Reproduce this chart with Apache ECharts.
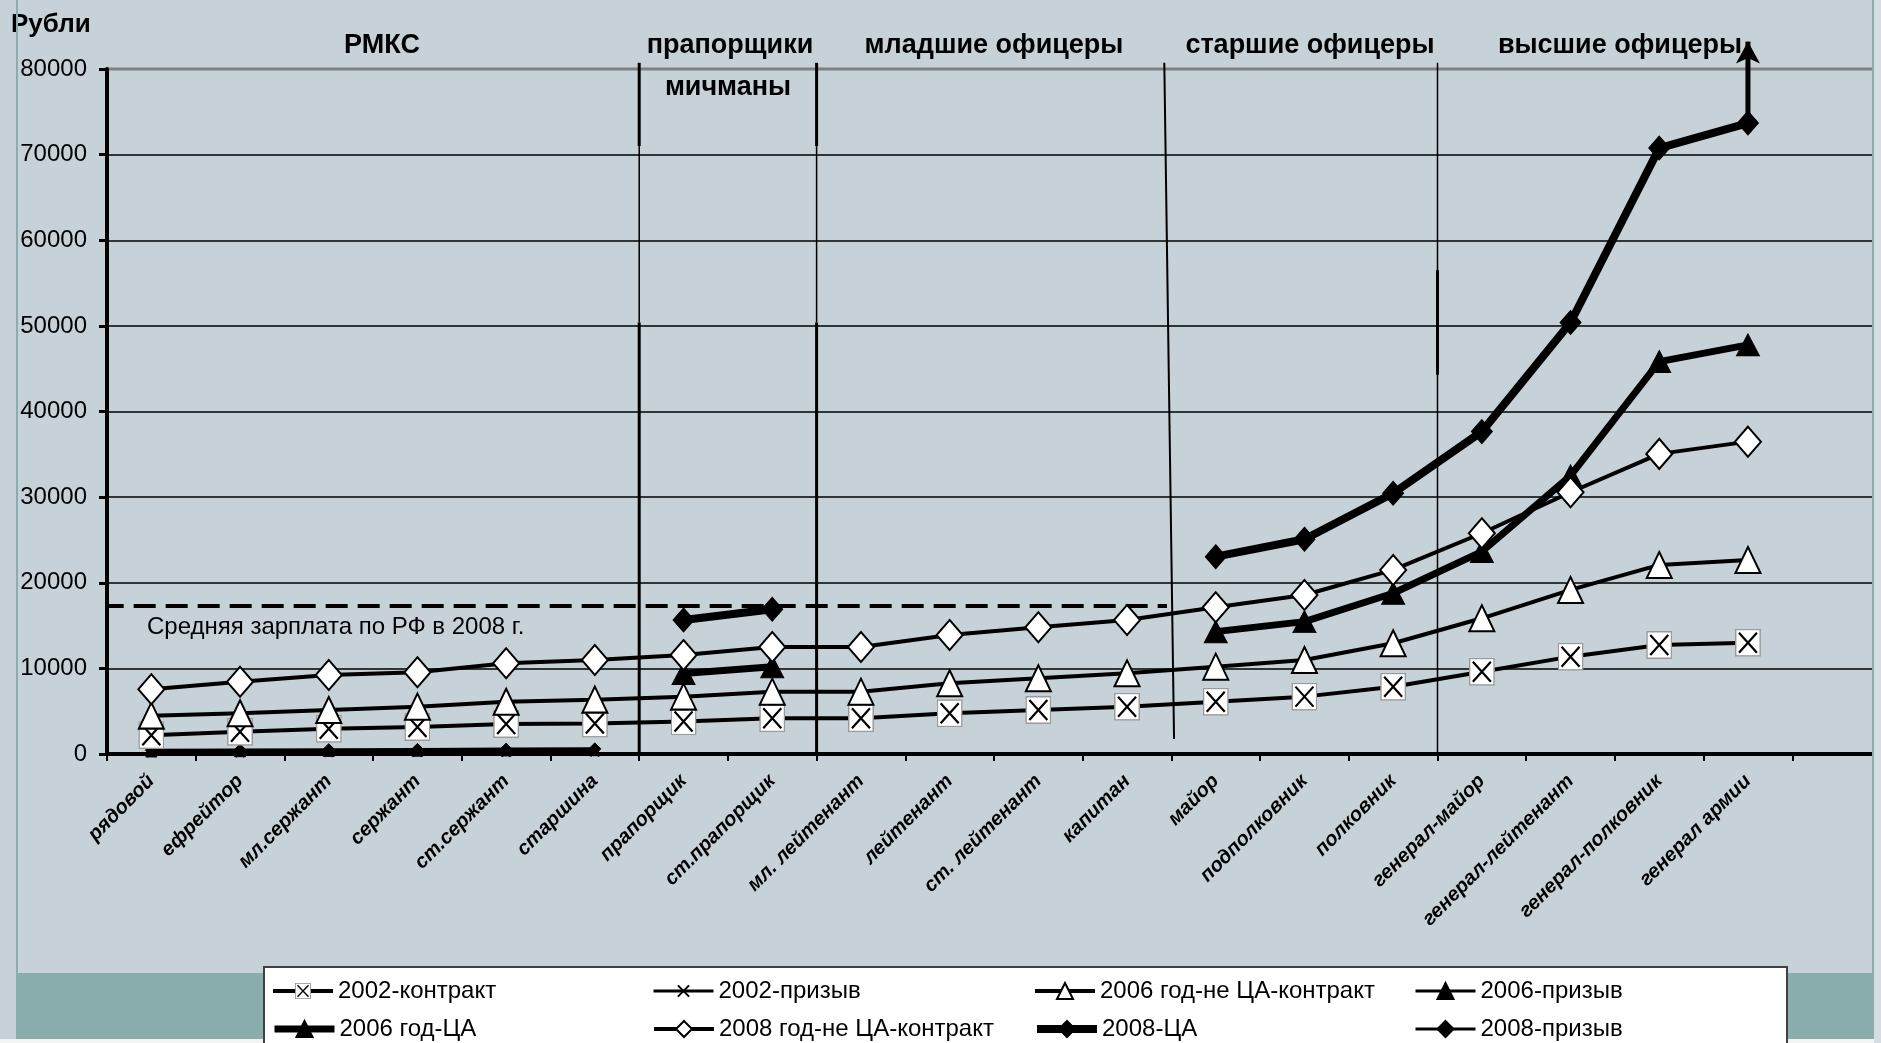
<!DOCTYPE html>
<html>
<head>
<meta charset="utf-8">
<script src="https://cdn.jsdelivr.net/npm/echarts@6/dist/echarts.min.js"></script>
<style>
  html, body { margin: 0; padding: 0; background: #fff; }
  #chart { width: 1881px; height: 1043px; }
</style>
</head>
<body>
<div id="chart"></div>
<script>
window.onload = function () {
    // звания
    var categories = ['рядовой', 'ефрейтор', 'мл.сержант', 'сержант', 'ст.сержант', 'старшина',
        'прапорщик', 'ст.прапорщик', 'мл. лейтенант', 'лейтенант', 'ст. лейтенант', 'капитан',
        'майор', 'подполковник', 'полковник', 'генерал-майор', 'генерал-лейтенант',
        'генерал-полковник', 'генерал армии', '']
    var n = null
    // денежное довольствие, рубли
    var contract2002 = [2200, 2600, 2950, 3150, 3500, 3550, 3800, 4170, 4170, 4750, 5140, 5530, 6110, 6700, 7860, 9610, 11370, 12730, 13000]
    var conscript2002 = [100, 120, 140, 160, 180, 200]
    var nonCA2006 = [4480, 4750, 5140, 5530, 6110, 6350, 6700, 7280, 7280, 8260, 8840, 9420, 10200, 10980, 12930, 15850, 19160, 22080, 22660]
    var conscript2006 = [300, 330, 360, 390, 420, 450]
    var ca2006 = [n, n, n, n, n, n, 9400, 10200, n, n, n, n, 14290, 15460, 18770, 23640, 32500, 45830, 47780]
    var nonCA2008 = [7560, 8450, 9230, 9540, 10600, 10980, 11570, 12500, 12500, 13900, 14800, 15650, 17130, 18570, 21500, 25780, 30570, 35050, 36480]
    var ca2008 = [n, n, n, n, n, n, 15650, 16900, n, n, n, n, 23050, 25080, 30450, 37650, 50390, 70760, 73680]
    var conscript2008 = [450, 480, 510, 540, 570, 600]
    var ca2008Beyond = 83200      // стрелка вверх за пределы шкалы
    var avgWage2008 = 17290       // средняя зарплата по РФ в 2008 г.
    var avgWageEnd = 11.45        // до границы капитан / майор
    // границы групп званий (в индексах категорий)
    var sectionBreaks = [5.5, 7.5, 11.5, 14.5]

    var font = '"Liberation Sans", Arial, sans-serif'

    function svgSymbol(svg) {
        return 'image://data:image/svg+xml;charset=utf-8,' + encodeURIComponent(svg)
    }
    var boxX = svgSymbol("<svg xmlns='http://www.w3.org/2000/svg' width='26' height='28' viewBox='0 0 26 28'>" +
        "<rect x='0.75' y='0.75' width='24.5' height='26.5' fill='#ffffff' stroke='#9a9a9a' stroke-width='1.5'/>" +
        "<path d='M4 4 L22 24 M22 4 L4 24' stroke='#000' stroke-width='2.2'/></svg>")
    var plainX = svgSymbol("<svg xmlns='http://www.w3.org/2000/svg' width='20' height='20' viewBox='0 0 20 20'>" +
        "<path d='M3 3 L17 17 M17 3 L3 17' stroke='#000' stroke-width='2.5'/></svg>")

    function line(name, data, opts) {
        return Object.assign({
            name: name,
            type: 'line',
            data: data,
            connectNulls: false,
            clip: false,
            silent: true,
            lineStyle: { color: '#000', width: 4 },
            itemStyle: { color: '#fff', borderColor: '#000', borderWidth: 2 }
        }, opts)
    }

    // вертикальные разделители групп (ось x в индексах категорий)
    var thick = 3, thin = 1.5, top = 80720
    var b = sectionBreaks
    var dividers = [
        [[b[0], top], [b[0], 71000], thick],
        [[b[0], 71000], [b[0], 50400], thin],
        [[b[0], 50400], [b[0], 0], thick],
        [[b[1], top], [b[1], 71000], thick],
        [[b[1], 71000], [b[1], 50400], thin],
        [[b[1], 50400], [b[1], 0], thick],
        [[b[2] - 0.08, top], [b[2] + 0.03, 1750], 2],
        [[b[3], top], [b[3], 0], thin],
        [[b[3], 56500], [b[3], 44300], thick]
    ].map(function (d) {
        return {
            type: 'line', xAxisIndex: 1, data: [d[0], d[1]],
            symbol: 'none', clip: false, silent: true, z: 1,
            lineStyle: { color: '#000', width: d[2] }
        }
    })

    var legendPos = [
        ['2002-контракт', 271, 979], ['2002-призыв', 652, 979],
        ['2006 год-не ЦА-контракт', 1033, 979], ['2006-призыв', 1414, 979],
        ['2006 год-ЦА', 271, 1017], ['2008 год-не ЦА-контракт', 652, 1017],
        ['2008-ЦА', 1033, 1017], ['2008-призыв', 1414, 1017]
    ]

    function headerText(text, x, y) {
        return {
            type: 'text', x: x, y: y, z: 5,
            style: {
                text: text, fill: '#000', font: 'bold 27px ' + font,
                textAlign: 'center', align: 'center', textVerticalAlign: 'middle', verticalAlign: 'middle'
            }
        }
    }

    var chart = echarts.init(document.getElementById('chart'))
    chart.setOption({
        animation: false,
        backgroundColor: '#C6D1D8',
        textStyle: { fontFamily: font },
        grid: {
            left: 107, top: 69, width: 1781, height: 685,
            show: true, borderColor: '#808080', borderWidth: 3, backgroundColor: 'transparent'
        },
        legend: legendPos.map(function (l) {
            return {
                data: [l[0]], left: l[1], top: l[2], padding: 0, itemGap: 0,
                itemWidth: 60, itemHeight: 20, selectedMode: false,
                lineStyle: { width: 'inherit' },
                textStyle: { fontSize: 24, color: '#000', lineHeight: 24, fontFamily: font }
            }
        }),
        xAxis: [{
            type: 'category',
            data: categories,
            boundaryGap: true,
            axisLine: { lineStyle: { color: '#000', width: 4 } },
            axisTick: { show: true, length: 7, lineStyle: { color: '#000', width: 2 } },
            axisLabel: {
                interval: 0, rotate: 45, margin: 24, color: '#000',
                fontSize: 20, fontStyle: 'italic', fontWeight: 'bold'
            },
            splitLine: { show: false }
        }, {
            type: 'value', min: -0.5, max: categories.length - 0.5, show: false
        }],
        yAxis: {
            type: 'value', min: 0, max: 80000, interval: 10000,
            axisLine: { show: true, onZero: false, lineStyle: { color: '#000', width: 4 } },
            axisTick: { show: true, length: 8, lineStyle: { color: '#000', width: 3 } },
            axisLabel: {
                fontSize: 24, margin: 20, color: '#000',
                formatter: function (v) { return String(v) }
            },
            splitLine: { showMaxLine: false, lineStyle: { width: 1.5, color: '#000' } }
        },
        series: [
            line('2002-призыв', conscript2002, { symbol: plainX, symbolSize: 12, lineStyle: { color: '#000', width: 3 } }),
            line('2006-призыв', conscript2006, {
                symbol: 'triangle', symbolSize: 11, lineStyle: { color: '#000', width: 3 },
                itemStyle: { color: '#000', borderColor: '#000', borderWidth: 1 }
            }),
            line('2008-призыв', conscript2008, {
                symbol: 'diamond', symbolSize: 12, lineStyle: { color: '#000', width: 3 },
                itemStyle: { color: '#000', borderColor: '#000', borderWidth: 1 }
            }),
            line('2002-контракт', contract2002, { symbol: boxX, symbolSize: [26, 28] }),
            line('2006 год-не ЦА-контракт', nonCA2006, { symbol: 'triangle', symbolSize: [25, 26] }),
            line('2006 год-ЦА', ca2006, {
                symbol: 'triangle', symbolSize: [23, 22], lineStyle: { color: '#000', width: 7 },
                itemStyle: { color: '#000', borderColor: '#000', borderWidth: 1 }
            }),
            line('2008 год-не ЦА-контракт', nonCA2008, { symbol: 'diamond', symbolSize: [26, 30] }),
            line('2008-ЦА', ca2008, {
                symbol: 'diamond', symbolSize: [21, 24], lineStyle: { color: '#000', width: 8 },
                itemStyle: { color: '#000', borderColor: '#000', borderWidth: 1 }
            }),
            // стрелка: у генерала армии значение выходит за шкалу
            {
                type: 'line',
                data: [
                    { value: ['генерал армии', ca2008[18]], symbol: 'none' },
                    { value: ['генерал армии', ca2008Beyond], symbol: 'arrow', symbolSize: [18, 22] }
                ],
                clip: false, silent: true, z: 3,
                lineStyle: { color: '#000', width: 5 },
                itemStyle: { color: '#000' }
            },
            {
                name: 'Средняя зарплата по РФ в 2008 г.',
                type: 'line',
                xAxisIndex: 1,
                data: [[-0.56, avgWage2008], [avgWageEnd, avgWage2008]],
                symbol: 'none',
                clip: false,
                silent: true,
                lineStyle: { color: '#000', width: 4, type: [22, 10] }
            }
        ].concat(dividers),
        graphic: [
            { type: 'rect', shape: { x: 18, y: 973, width: 1855, height: 66 }, style: { fill: '#8AADAD' }, z: 1 },
            { type: 'rect', shape: { x: 0, y: 1039, width: 1881, height: 4 }, style: { fill: '#F2F4F4' }, z: 1 },
            { type: 'rect', shape: { x: 1874, y: 0, width: 7, height: 1043 }, style: { fill: '#D5DDE2' }, z: 100 },
            { type: 'line', shape: { x1: 17, y1: 0, x2: 17, y2: 1039 }, style: { stroke: '#8AADAD', lineWidth: 2 }, z: 100 },
            { type: 'line', shape: { x1: 1873, y1: 0, x2: 1873, y2: 1039 }, style: { stroke: '#8AADAD', lineWidth: 2 }, z: 100 },
            { type: 'rect', shape: { x: 264, y: 967, width: 1523, height: 90 }, style: { fill: '#fff', stroke: '#404040', lineWidth: 2 }, z: 2 },
            {
                type: 'text', x: 11, y: 25, z: 5,
                style: { text: 'Рубли', fill: '#000', font: 'bold 26px ' + font, textVerticalAlign: 'middle', verticalAlign: 'middle' }
            },
            headerText('РМКС', 382, 46),
            headerText('прапорщики', 730, 46),
            headerText('мичманы', 728, 88),
            headerText('младшие офицеры', 994, 46),
            headerText('старшие офицеры', 1310, 46),
            headerText('высшие офицеры', 1620, 46),
            {
                type: 'text', x: 147, y: 627, z: 5,
                style: {
                    text: 'Средняя зарплата по РФ в 2008 г.', fill: '#000', font: '24px ' + font,
                    textVerticalAlign: 'middle', verticalAlign: 'middle'
                }
            }
        ]
    })
}
</script>
</body>
</html>
